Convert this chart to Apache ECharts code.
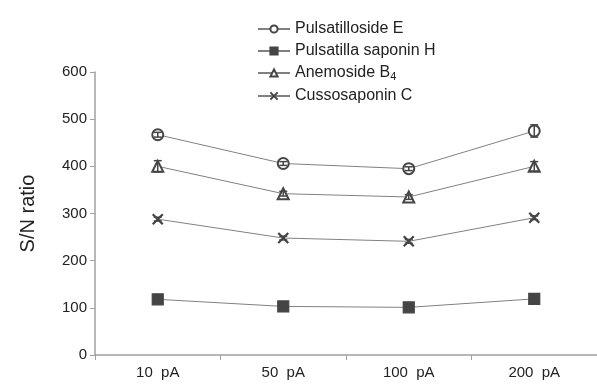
<!DOCTYPE html>
<html>
<head>
<meta charset="utf-8">
<script src="https://cdn.jsdelivr.net/npm/echarts@6/dist/echarts.min.js"></script>
<style>
  html, body { margin: 0; padding: 0; background: #fff; }
  #chart_SN_Main { width: 597px; height: 385px; }
</style>
</head>
<body>
<div id="chart_SN_Main"></div>
<script>
var categories = ['10  pA', '50  pA', '100  pA', '200  pA'];
var yTicks = [0, 100, 200, 300, 400, 500, 600];

var seriesNames = ['Pulsatilloside E', 'Pulsatilla saponin H', 'Anemoside B4', 'Cussosaponin C'];
var valE = [467, 406, 395, 475];
var valH = [118, 103, 101, 119];
var valB4 = [400, 342, 335, 400];
var valC = [288, 248, 241, 291];

// error (+/-)
var errE = [5, 4, 4, 13];
var errH = [3, 3, 3, 3];
var errB4 = [12, 5, 5, 10];
var errC = [4, 4, 4, 4];

var chart_SN_Main = echarts.init(document.getElementById('chart_SN_Main'));

var symbols = ['emptyCircle', 'rect', 'emptyTriangle', 'path://M0,0L10,10M10,0L0,10'];
var values = [valE, valH, valB4, valC];
var errors = [errE, errH, errB4, errC];

var srs = [];
for (var i = 0; i < values.length; i++) {
    srs.push({
        name: seriesNames[i],
        type: 'line',
        data: values[i],
        symbol: symbols[i],
        symbolSize: i === 3 ? 10 : 11,
        showAllSymbol: true,
        lineStyle: { color: '#808080', width: 1 },
        itemStyle: {
            color: '#454545',
            borderColor: '#454545',
            borderWidth: i === 3 ? 2.2 : 1.2
        },
        z: 3
    });
}

// error bars
for (var k = 0; k < values.length; k++) {
    (function (idx) {
        var d = [];
        for (var j = 0; j < values[idx].length; j++) {
            d.push([j, values[idx][j] - errors[idx][j], values[idx][j] + errors[idx][j]]);
        }
        srs.push({
            type: 'custom',
            name: seriesNames[idx] + ' err',
            data: d,
            z: 4,
            silent: true,
            renderItem: function (params, api) {
                var lo = api.coord([api.value(0), api.value(1)]);
                var hi = api.coord([api.value(0), api.value(2)]);
                var w = 4;
                var st = { stroke: '#454545', lineWidth: 1.5 };
                return {
                    type: 'group',
                    children: [
                        { type: 'line', shape: { x1: lo[0], y1: lo[1], x2: hi[0], y2: hi[1] }, style: st },
                        { type: 'line', shape: { x1: lo[0] - w, y1: lo[1], x2: lo[0] + w, y2: lo[1] }, style: st },
                        { type: 'line', shape: { x1: hi[0] - w, y1: hi[1], x2: hi[0] + w, y2: hi[1] }, style: st }
                    ]
                };
            }
        });
    })(k);
}

var option = {
    animation: false,
    textStyle: { fontFamily: 'Liberation Sans, Arial, sans-serif' },
    legend: {
        data: seriesNames,
        orient: 'vertical',
        left: 252,
        top: 16,
        itemWidth: 32,
        itemHeight: 9,
        itemGap: 6,
        inactiveColor: '#ccc',
        textStyle: {
            fontSize: 16,
            color: '#222',
            rich: {
                sub: { fontSize: 11, verticalAlign: 'bottom', padding: [7, 0, 0, 0], color: '#222' }
            }
        },
        formatter: function (name) {
            if (name === 'Anemoside B4') return 'Anemoside B{sub|4}';
            return name;
        }
    },
    grid: {
        left: 95,
        right: 0,
        top: 72,
        bottom: 30,
        containLabel: false
    },
    xAxis: {
        type: 'category',
        data: categories,
        boundaryGap: true,
        axisLine: { lineStyle: { color: '#a0a0a0', width: 1.5 } },
        axisTick: { show: true, length: 5, alignWithLabel: false, lineStyle: { color: '#a0a0a0' } },
        axisLabel: { fontSize: 15, color: '#222', margin: 10 }
    },
    yAxis: {
        type: 'value',
        min: yTicks[0],
        max: yTicks[yTicks.length - 1],
        interval: 100,
        name: 'S/N ratio',
        nameLocation: 'middle',
        nameGap: 57,
        nameTextStyle: { fontSize: 20, color: '#222' },
        axisLine: { show: true, lineStyle: { color: '#a0a0a0', width: 1.5 } },
        axisTick: { show: true, length: 5, lineStyle: { color: '#a0a0a0' } },
        axisLabel: { fontSize: 15, color: '#222', margin: 8 },
        splitLine: { show: false }
    },
    series: srs
};

chart_SN_Main.setOption(option);
</script>
</body>
</html>
